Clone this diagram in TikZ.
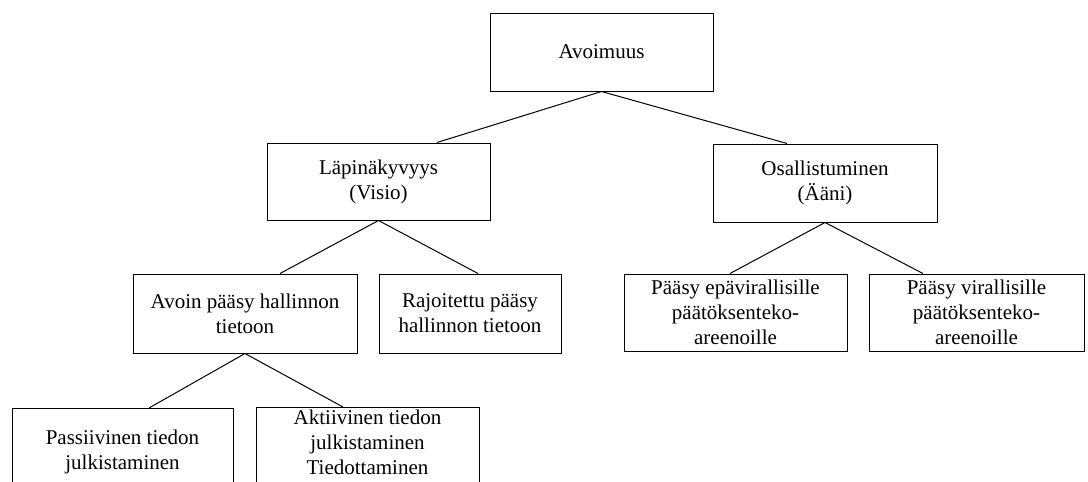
\documentclass[tikz,border=0pt]{standalone}
\usepackage{fontspec}
\setmainfont{Liberation Serif}
\usetikzlibrary{positioning}

\begin{document}
\begin{tikzpicture}[x=1pt,y=-1pt,line width=1pt,
			font=\fontsize{21}{25}\selectfont,
			rect/.style={draw=black,
				rectangle,
				fill=white,
				inner sep=0pt,
				minimum width=223pt,
				minimum height=78pt,
				align=center},
			cutbox/.style={rect,anchor=north,minimum height=0pt,text depth=40pt}]
			\useasboundingbox (0,0) rectangle (1088,482);
			\clip (0,0) rectangle (1088,482);
			\node[rect] (avo) at (601.5,52) {Avoimuus};
			\node[rect,minimum height=77pt] (lapi) at (378.5,181.5) {Läpinäkyvyys\\(Visio)};
			\node[rect,minimum width=224pt] (osal) at (825,183) {Osallistuminen\\(Ääni)};
			\node[rect,minimum width=224pt,minimum height=79pt] (avoin) at (245,313.5) {Avoin pääsy hallinnon\\tietoon};
			\node[rect,minimum width=182pt,minimum height=79pt] (rajo) at (470,313.5) {Rajoitettu pääsy\\hallinnon tietoon};
			\node[rect,minimum height=77pt] (epav) at (735.5,312.5) {Pääsy epävirallisille\\päätöksenteko-\\areenoille};
			\node[rect,minimum width=215pt,minimum height=77pt] (vir) at (976.5,312.5) {Pääsy virallisille\\päätöksenteko-\\areenoille};
			% lowest row runs off the bottom edge
			\node[cutbox,minimum width=221pt,inner ysep=21pt] (pass) at (122.5,408) {Passiivinen tiedon\\julkistaminen};
			\node[cutbox,inner ysep=2.5pt] (akti) at (367.5,407) {Aktiivinen tiedon\\julkistaminen\\Tiedottaminen};
			\draw (avo.south)--([xshift=58.5pt]lapi.north);
			\draw (avo.south)--([xshift=-38pt]osal.north);
			\draw (lapi.south)--([xshift=35pt]avoin.north);
			\draw (lapi.south)--([xshift=8pt]rajo.north);
			\draw (osal.south)--([xshift=-5.5pt]epav.north);
			\draw (osal.south)--([xshift=-53.5pt]vir.north);
			\draw (avoin.south)--([xshift=26.5pt]pass.north);
			\draw (avoin.south)--([xshift=-24.5pt]akti.north);
		\end{tikzpicture}
\end{document}
